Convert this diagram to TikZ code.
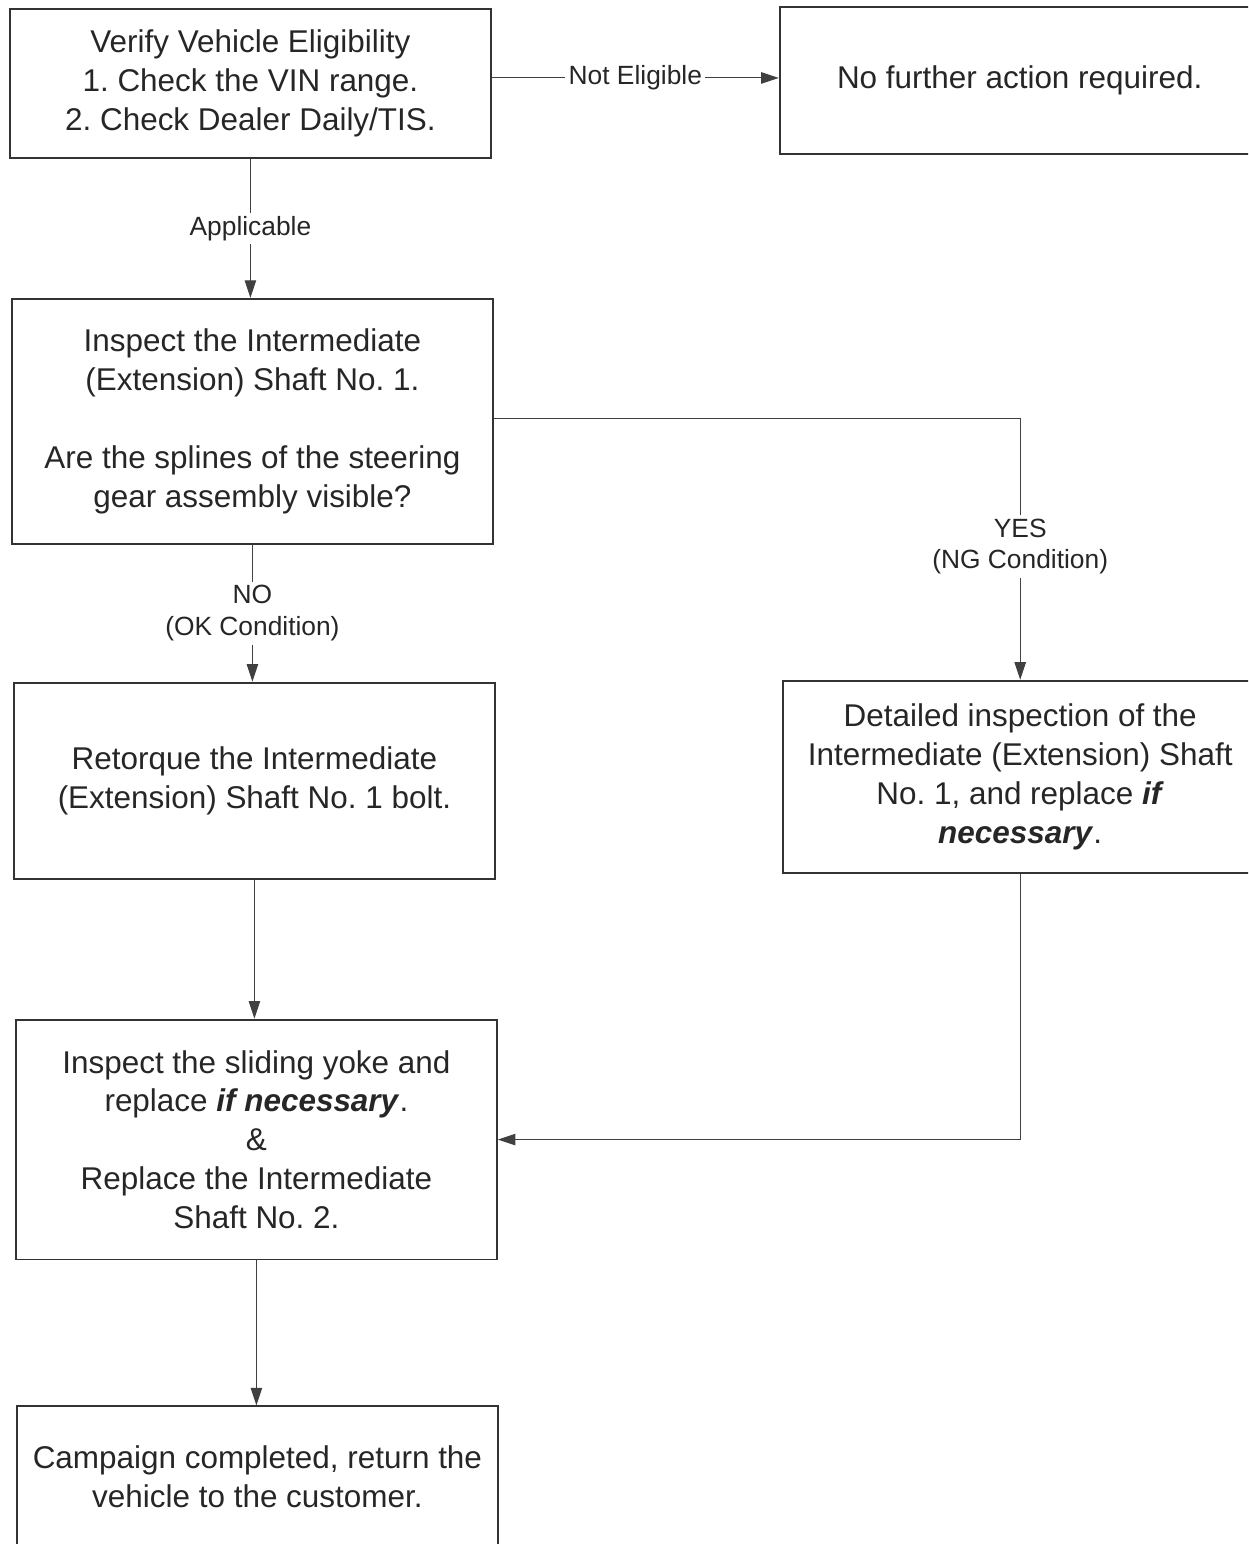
\documentclass[tikz,border=0pt]{standalone}
\usepackage{fontspec}
\setmainfont{Liberation Sans}
\usetikzlibrary{arrows.meta, positioning}
\frenchspacing

\begin{document}
\begin{tikzpicture}[
  x=0.02cm, y=-0.02cm,
  stepbox/.style={draw=black!80, line width=1.1pt, rectangle, minimum width=9.62cm, text=black!85, align=center, inner sep=0pt, font=\fontsize{17.9pt}{22.1pt}\selectfont},
  arrow/.style={-{Triangle[length=10pt, width=6.5pt]}, draw=black!75, line width=0.6pt},
  lbl/.style={fill=white, inner sep=2pt, text=black!85, align=center, font=\fontsize{15pt}{18pt}\selectfont}
]
\useasboundingbox (0,0) rectangle (1248,1544);
\clip (0,0) rectangle (1248,1544);

% Eligibility check
\node[stepbox, minimum height=2.98cm, anchor=north west] (verify) at (9,8)
  {Verify Vehicle Eligibility\\1. Check the VIN range.\\2. Check Dealer Daily/TIS.};

% Not eligible
\node[stepbox, minimum width=9.6cm, minimum height=2.94cm, right=5.74cm of verify.north east, anchor=north west, yshift=0.04cm] (nofurther)
  {No further action required.};

% Inspection of shaft No. 1
\node[stepbox, minimum height=4.9cm, below=2.78cm of verify.south west, anchor=north west, xshift=0.04cm] (inspect)
  {Inspect the Intermediate\\(Extension) Shaft No. 1.\\[22.1pt]Are the splines of the steering\\gear assembly visible?};

% OK condition
\node[stepbox, minimum height=3.92cm, below=2.74cm of inspect.south west, anchor=north west, xshift=0.04cm] (retorque)
  {Retorque the Intermediate\\(Extension) Shaft No. 1 bolt.};

% NG condition
\node[stepbox, minimum width=9.5cm, minimum height=3.84cm, right=5.72cm of retorque.north east, anchor=north west, yshift=0.04cm] (detailed)
  {Detailed inspection of the\\Intermediate (Extension) Shaft\\No. 1, and replace \textbf{\textit{if}}\\\textbf{\textit{necessary}}.};

% Sliding yoke and shaft No. 2
\node[stepbox, minimum height=4.8cm, below=2.78cm of retorque.south west, anchor=north west, xshift=0.04cm] (yoke)
  {Inspect the sliding yoke and\\replace \textbf{\textit{if necessary}}.\\\&\\Replace the Intermediate\\Shaft No. 2.};

% Done
\node[stepbox, minimum height=2.8cm, below=2.9cm of yoke.south west, anchor=north west, xshift=0.02cm] (campaign)
  {Campaign completed, return the\\vehicle to the customer.};

% Arrows between boxes
\draw[arrow] ([yshift=0.11cm]verify.east) -- node[lbl] {Not Eligible} ([yshift=0.11cm]verify.east -| nofurther.west);
\draw[arrow] (verify.south) -- node[lbl] {Applicable} (verify.south |- inspect.north);
\draw[arrow] ([yshift=0.05cm]inspect.east) -| node[lbl, pos=0.745] {YES\\(NG Condition)} (detailed.north);
\draw[arrow] (inspect.south) -- node[lbl] {NO\\(OK Condition)} (inspect.south |- retorque.north);
\draw[arrow] (retorque.south) -- (retorque.south |- yoke.north);
\draw[arrow] (detailed.south) |- (yoke.east);
\draw[arrow] (yoke.south) -- (yoke.south |- campaign.north);

\end{tikzpicture}
\end{document}
